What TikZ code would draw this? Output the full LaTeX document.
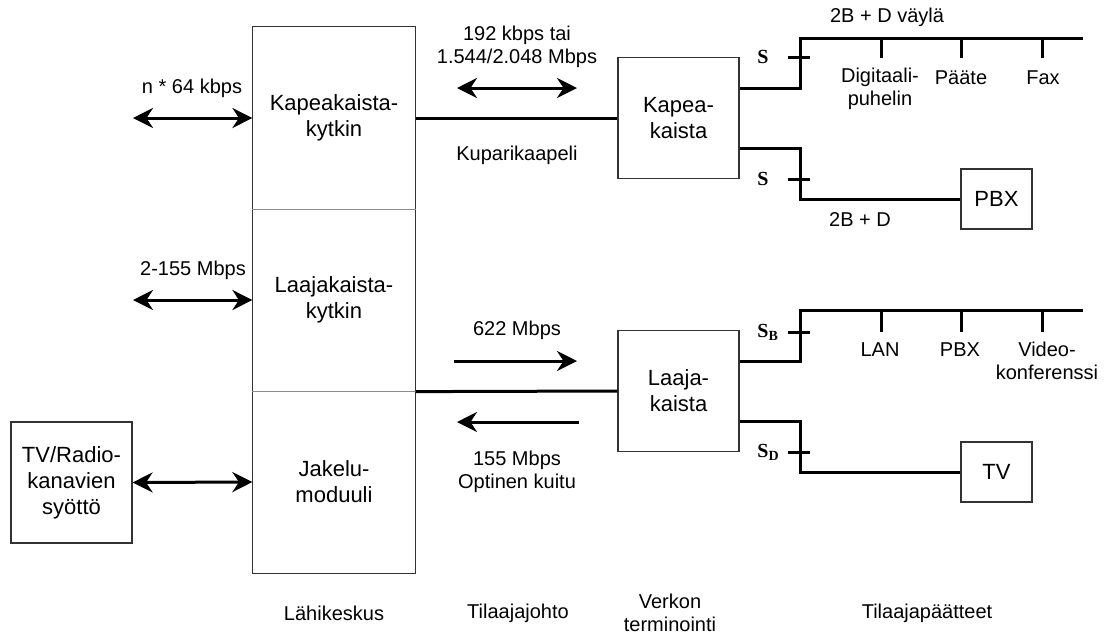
\documentclass[tikz,border=0pt]{standalone}
\usepackage{fontspec}
\setmainfont{Liberation Sans}
\newfontfamily\sfont{Liberation Serif}
\usetikzlibrary{arrows.meta}

\begin{document}
\begin{tikzpicture}[x=0.5pt,y=-0.5pt,
  every node/.style={font=\fontsize{10}{11.5}\selectfont,align=center},
  box/.style={shape=rectangle,draw=black!80,line width=0.6pt,inner sep=0pt,font=\fontsize{11}{13}\selectfont},
  slab/.style={font=\fontsize{10}{11}\selectfont\sfont\bfseries,inner sep=0pt,anchor=west},
  wire/.style={draw=black,line width=1.5pt},
  divider/.style={draw=black!45,line width=0.6pt},
  arr/.style={-{Stealth[length=10pt,width=10pt]},line width=1.5pt},
  dblarr/.style={{Stealth[length=10pt,width=10pt]}-{Stealth[length=10pt,width=10pt]},line width=1.5pt}]
\useasboundingbox (0,0) rectangle (1104,634);

% local exchange
\node[box,draw=none,minimum width=81pt,minimum height=91pt] (kk) at (334,118) {Kapeakaista-\\kytkin};
\node[box,draw=none,minimum width=81pt,minimum height=91pt] (lk) at (334,300) {Laajakaista-\\kytkin};
\node[box,draw=none,minimum width=81pt,minimum height=91pt] (jm) at (334,482) {Jakelu-\\moduuli};
\draw[box] (kk.north west) rectangle (jm.south east);
\draw[divider] (kk.south west) -- (kk.south east);
\draw[divider] (lk.south west) -- (lk.south east);

\node[box,minimum size=60.5pt] (tvr) at (71.5,482.5) {TV/Radio-\\kanavien\\syöttö};
\node[box,minimum size=60.5pt] (kapea) at (678.5,118) {Kapea-\\kaista};
\node[box,minimum size=60.5pt] (laaja) at (678.5,391) {Laaja-\\kaista};
\node[box,minimum width=35.5pt,minimum height=30pt] (pbx) at (996.5,199) {PBX};
\node[box,minimum width=35.5pt,minimum height=30pt] (tv) at (996.5,472) {TV};

% left side
\coordinate (n64) at (133,118);
\coordinate (m155) at (133,300);
\draw[dblarr] (n64) -- (kk.west);
\draw[dblarr] (m155) -- (lk.west);
\draw[dblarr] (tvr.east) -- (jm.west);
\node (ln64) at (192,88) {n * 64 kbps};
\node (lm155) at (193,270) {2-155 Mbps};

% subscriber line
\draw[wire] (kk.east) -- (kapea.west);
\draw[wire] (lk.south east) -- (laaja.west);
\coordinate (k1) at (457,88);
\coordinate (k2) at (577,88);
\draw[dblarr] (k1) -- (k2);
\coordinate (o1) at (454,361);
\coordinate (o2) at (577,361);
\draw[arr] (o1) -- (o2);
\coordinate (o3) at (579,422);
\coordinate (o4) at (457,422);
\draw[arr] (o3) -- (o4);
\node (lkb) at (517,47) {192 kbps tai\\1.544/2.048 Mbps};
\node (lkup) at (517,155) {Kuparikaapeli};
\node (l622) at (517,330) {622 Mbps};
\node (lopt) at (517,472) {155 Mbps\\Optinen kuitu};

% narrowband terminals
\coordinate (s1) at (800,38);
\coordinate (e1) at (1083,38);
\coordinate (s2) at (800,199);
\draw[wire] ([yshift=15pt]kapea.east) -| (s1) -- (e1);
\draw[wire] ([yshift=-15pt]kapea.east) -| (s2) -- (pbx.west);
\coordinate (t1) at (800,57);
\coordinate (t2) at (800,179);
\draw[wire] ([xshift=-6pt]t1) -- ([xshift=5pt]t1);
\draw[wire] ([xshift=-6pt]t2) -- ([xshift=5pt]t2);
\node[slab] (ls1) at (757,57) {S};
\node[slab] (ls2) at (757,179) {S};
\coordinate (d1) at (881,58);
\coordinate (d2) at (961,58);
\coordinate (d3) at (1042,58);
\foreach \d in {d1,d2,d3}
  \draw[wire] (\d |- s1) -- (\d);
\node (lvay) at (887,17) {2B + D väylä};
\node (ldig) at (880,89) {Digitaali-\\puhelin};
\node (lpaa) at (961,78) {Pääte};
\node (lfax) at (1043,78) {Fax};
\node (l2bd) at (860,220) {2B + D};

% broadband terminals
\coordinate (s3) at (800,310);
\coordinate (e3) at (1083,310);
\coordinate (s4) at (800,472);
\draw[wire] ([yshift=15pt]laaja.east) -| (s3) -- (e3);
\draw[wire] ([yshift=-15pt]laaja.east) -| (s4) -- (tv.west);
\coordinate (t3) at (800,332);
\coordinate (t4) at (800,452);
\draw[wire] ([xshift=-6pt]t3) -- ([xshift=5pt]t3);
\draw[wire] ([xshift=-6pt]t4) -- ([xshift=5pt]t4);
\node[slab] (ls3) at (757,332) {S\textsubscript{B}};
\node[slab] (ls4) at (757,452) {S\textsubscript{D}};
\coordinate (d4) at (881,332);
\coordinate (d5) at (961,332);
\coordinate (d6) at (1042,332);
\foreach \d in {d4,d5,d6}
  \draw[wire] (\d |- s3) -- (\d);
\node (llan) at (880,350) {LAN};
\node (lpbx) at (960,350) {PBX};
\node (lvid) at (1047,361) {Video-\\konferenssi};

% column titles
\node (c1) at (334,613) {Lähikeskus};
\node (c2) at (518,613) {Tilaajajohto};
\node (c3) at (670,613) {Verkon\\terminointi};
\node (c4) at (927,613) {Tilaajapäätteet};
\end{tikzpicture}
\end{document}
